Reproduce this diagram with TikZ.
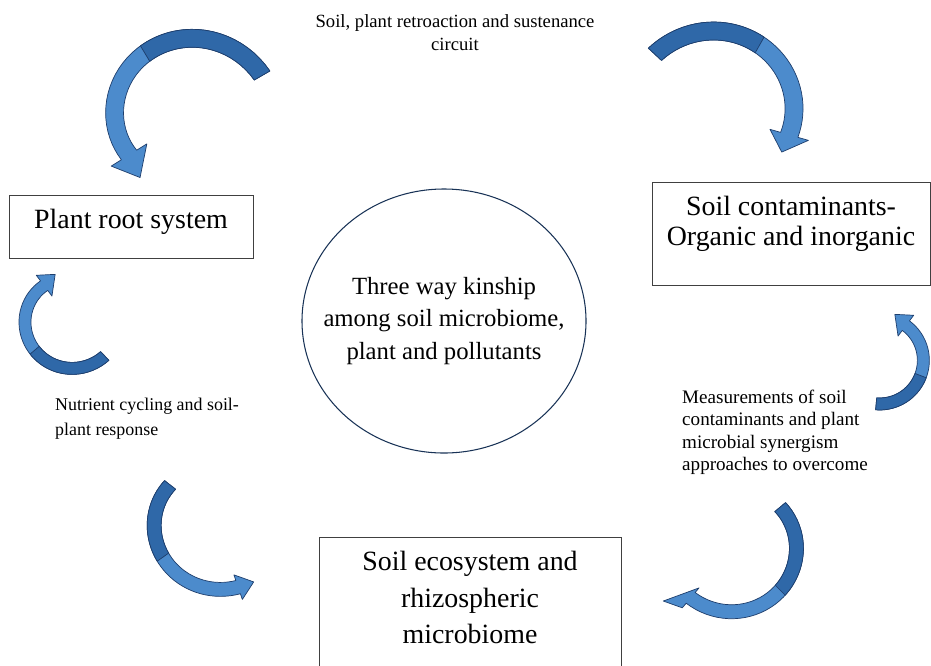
\documentclass[tikz,border=0pt]{standalone}
\usepackage{fontspec}
\setmainfont{Liberation Serif}
\usepackage{tikz}
\usetikzlibrary{calc,shapes}
\definecolor{ribbondark}{RGB}{47,104,168}
\definecolor{ribbonlight}{RGB}{76,139,204}
\definecolor{ribbonedge}{RGB}{30,62,108}
\tikzstyle{box}=[
  draw=black!75,
  line width=.6pt,
  inner xsep=0pt,
  inner ysep=.42cm,
  anchor=north,
  align=center,
  font=\fontsize{23.8}{25.5}\selectfont,
]
\tikzstyle{note}=[
  inner sep=0pt,
  align=left,
  anchor=north west,
]
\tikzstyle{twistdark}=[
  fill=ribbondark,
  draw=ribbonedge,
  line width=.6pt,
  line join=round,
]
\tikzstyle{twistlight}=[
  fill=ribbonlight,
  draw=ribbonedge,
  line width=.6pt,
  line join=round,
]
\tikzset{
  x=.03cm,
  y=-.03cm,
}
% #1 centre, #2/#3 tail/head angle, #4/#5 tail/head radius,
% #6 half band, #7 half head, #8 tip angle, #9 tip radius
\newcommand{\twistarrow}[9]{%
  \begin{scope}[shift={(#1)},
    declare function={rr(\t)=#4+(#5-#4)*(\t-(#2))/((#3)-(#2));}]
    \pgfmathsetmacro\twistmid{(#2+#3)/2}
    \filldraw[twistlight]
      plot[domain=#2:#3,samples=40] ({(rr(\x)+#6)*cos(\x)},{(rr(\x)+#6)*sin(\x)})
      -- ({(#5+#7)*cos(#3)},{(#5+#7)*sin(#3)})
      -- ({#9*cos(#3+(#8))},{#9*sin(#3+(#8))})
      -- ({(#5-#7)*cos(#3)},{(#5-#7)*sin(#3)})
      -- plot[domain=#3:#2,samples=40] ({(rr(\x)-#6)*cos(\x)},{(rr(\x)-#6)*sin(\x)})
      -- cycle;
    \filldraw[twistdark]
      plot[domain=#2:\twistmid,samples=20] ({(rr(\x)+#6)*cos(\x)},{(rr(\x)+#6)*sin(\x)})
      -- plot[domain=\twistmid:#2,samples=20] ({(rr(\x)-#6)*cos(\x)},{(rr(\x)-#6)*sin(\x)})
      -- cycle;
  \end{scope}}

\begin{document}
\begin{tikzpicture}
  \useasboundingbox (0,0) rectangle (931,665);

  \coordinate (topleft) at (185,120);
  \coordinate (topright) at (720,115);
  \coordinate (midleft) at (70,320);
  \coordinate (midright) at (880,360);
  \coordinate (lowleft) at (215,520);
  \coordinate (lowright) at (735,545);

  \twistarrow{topleft}{-30}{-212}{89}{66}{9}{21}{-20}{73}
  \twistarrow{topright}{-137}{16}{89}{72}{9}{20}{15}{72}
  \twistarrow{midleft}{46}{233}{50}{43}{6}{13}{19}{48}
  \twistarrow{midright}{95}{-53}{44}{43}{6}{13}{-19}{48}
  \twistarrow{lowleft}{218}{71}{57}{71}{7}{13}{-13}{73}
  \twistarrow{lowright}{-40}{130}{59}{69}{7}{13}{12}{91}

  \node[note, anchor=north, align=center, font=\fontsize{15.9}{19.6}\selectfont]
    (circuit) at (455,14) {Soil, plant retroaction and sustenance\\circuit};
  \node[box, minimum width=7.32cm, text depth=.48cm] (root) at (131,195)
    {Plant root system};
  \node[box, minimum width=8.34cm, text depth=.78cm] (contam) at (791,182)
    {Soil contaminants-\\Organic and inorganic};
  \node[draw=ribbonedge!80!black, line width=.9pt, ellipse, minimum width=8.52cm,
    minimum height=7.92cm, inner xsep=-1cm, inner ysep=0pt, align=center,
    font=\fontsize{21.1}{27.6}\selectfont] (kinship) at (444,321)
    {Three way kinship\\among soil microbiome,\\plant and pollutants};
  \node[note, font=\fontsize{15.3}{21.3}\selectfont] (cycling) at (55,398)
    {Nutrient cycling and soil-\\plant response};
  \node[note, font=\fontsize{16.3}{19}\selectfont] (measure) at (682,390)
    {Measurements of soil\\contaminants and plant\\microbial synergism\\approaches to overcome};
  \node[box, minimum width=9.06cm, text depth=2cm,
    font=\fontsize{23.8}{31}\selectfont] (soil) at (470,537)
    {Soil ecosystem and\\rhizospheric\\microbiome};
\end{tikzpicture}
\end{document}
